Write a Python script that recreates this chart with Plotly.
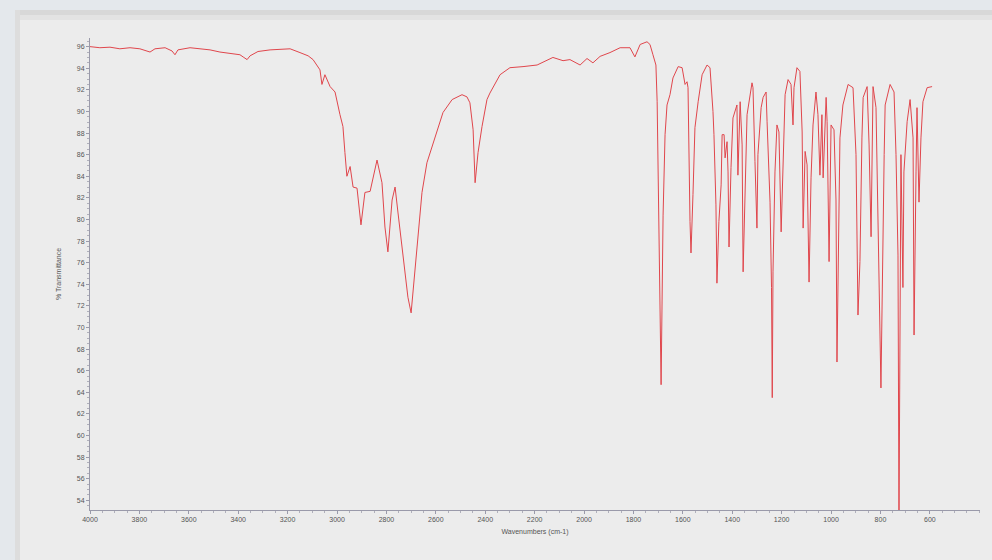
import plotly.graph_objects as go

# Wavenumbers (cm-1)
wavenumber = [
    4000, 3960, 3919, 3879, 3838, 3798, 3757, 3737, 3696, 3668, 3656, 3644, 3595, 3555, 3514,
    3474, 3433, 3393, 3377, 3364, 3352, 3320, 3271, 3231, 3190, 3150, 3117, 3097, 3069, 3061,
    3049, 3028, 3008, 2988, 2976, 2968, 2960, 2947, 2935, 2919, 2903, 2887, 2866, 2838, 2818,
    2806, 2794, 2777, 2765, 2753, 2733, 2713, 2700, 2692, 2676, 2656, 2636, 2603, 2571, 2534,
    2494, 2474, 2462, 2449, 2441, 2429, 2413, 2393, 2381, 2340, 2300, 2247, 2190, 2126, 2085,
    2057, 2016, 1988, 1964, 1935, 1895, 1854, 1814, 1794, 1773, 1745, 1733, 1721, 1709, 1704,
    1700, 1696, 1688, 1680, 1672, 1664, 1652, 1640, 1619, 1603, 1591, 1583, 1579, 1571, 1567,
    1559, 1551, 1538, 1522, 1502, 1490, 1478, 1474, 1466, 1462, 1454, 1445, 1441, 1433, 1429,
    1421, 1417, 1413, 1405, 1397, 1381, 1377, 1368, 1360, 1356, 1348, 1340, 1320, 1316, 1308,
    1300, 1296, 1283, 1275, 1263, 1259, 1247, 1241, 1238, 1235, 1227, 1219, 1211, 1202, 1194,
    1186, 1174, 1162, 1154, 1150, 1138, 1126, 1117, 1113, 1105, 1097, 1089, 1081, 1073, 1061,
    1053, 1045, 1037, 1032, 1020, 1016, 1008, 1000, 988, 980, 976, 968, 964, 952, 931,
    911, 899, 891, 883, 875, 870, 854, 846, 838, 834, 830, 818, 810, 798, 785,
    781, 761, 745, 737, 729, 725, 721, 717, 709, 705, 692, 680, 668, 664, 656,
    652, 644, 636, 628, 611, 591,
]

# % Transmittance at each wavenumber
transmittance = [
    96.0, 95.9, 95.95, 95.8, 95.9, 95.8, 95.5, 95.8, 95.9, 95.6, 95.25, 95.7, 95.9, 95.8, 95.7,
    95.5, 95.35, 95.25, 95.0, 94.8, 95.15, 95.55, 95.7, 95.75, 95.8, 95.45, 95.15, 94.8, 93.85, 92.5,
    93.4, 92.3, 91.8, 89.7, 88.6, 86.2, 84.0, 84.9, 83.0, 82.9, 79.5, 82.5, 82.6, 85.5, 83.4,
    79.3, 77.0, 81.8, 83.0, 80.6, 76.5, 72.8, 71.35, 73.5, 77.5, 82.5, 85.25, 87.65, 89.9, 91.1,
    91.55, 91.35, 90.8, 88.3, 83.4, 86.2, 88.6, 91.1, 91.7, 93.4, 94.05, 94.15, 94.3, 95.0, 94.7,
    94.8, 94.3, 94.9, 94.5, 95.1, 95.45, 95.9, 95.9, 95.05, 96.2, 96.45, 96.2, 95.25, 94.3, 90.9,
    84.1, 75.5, 64.7, 80.4, 87.85, 90.6, 91.55, 93.1, 94.15, 94.05, 92.5, 92.75, 92.2, 79.8, 76.9,
    82.3, 88.5, 90.9, 93.4, 94.3, 94.05, 90.0, 87.85, 81.35, 74.1, 79.8, 83.2, 87.85, 87.85, 85.7,
    87.2, 84.4, 77.45, 84.8, 89.4, 90.6, 84.1, 90.9, 86.9, 75.15, 82.9, 89.7, 92.65, 92.2, 85.35,
    79.2, 86.0, 90.35, 91.3, 91.8, 89.05, 81.6, 73.7, 63.5, 75.15, 84.4, 88.75, 88.1, 78.85, 86.6,
    91.55, 92.95, 92.5, 88.75, 92.2, 94.05, 93.7, 88.1, 79.2, 86.3, 85.05, 74.2, 83.85, 88.75, 91.8,
    89.7, 84.1, 89.7, 83.85, 91.3, 89.05, 76.1, 88.75, 88.3, 81.8, 66.8, 82.75, 87.55, 90.6, 92.5,
    92.2, 86.0, 71.15, 76.1, 87.55, 91.3, 92.3, 86.9, 78.4, 89.05, 92.3, 90.35, 78.3, 64.4, 86.0,
    90.6, 92.5, 91.8, 86.0, 76.7, 52.0, 76.7, 86.0, 73.7, 84.4, 89.05, 91.1, 87.55, 69.3, 84.4,
    90.35, 81.6, 87.55, 90.9, 92.2, 92.3,
]

x_ticks = [4000, 3800, 3600, 3400, 3200, 3000, 2800, 2600, 2400, 2200, 2000,
           1800, 1600, 1400, 1200, 1000, 800, 600]
y_ticks = list(range(54, 97, 2))

fig = go.Figure()
fig.add_trace(go.Scatter(
    x=wavenumber, y=transmittance, mode="lines",
    line=dict(color="#e0464c", width=1),
    showlegend=False, hoverinfo="x+y",
))

L, R, T, B = 90, 12, 38, 50
W, H = 992, 560
pw, ph = W - L - R, H - T - B

def px(xp):
    return (xp - L) / pw

def py(yp):
    return (H - B - yp) / ph

shapes = [
    dict(type="rect", xref="paper", yref="paper", x0=px(15), x1=px(992), y0=py(560), y1=py(10),
         fillcolor="#ececec", line=dict(width=0), layer="below"),
    dict(type="rect", xref="paper", yref="paper", x0=px(15), x1=px(992), y0=py(15), y1=py(10),
         fillcolor="#d8d8d8", line=dict(width=0), layer="below"),
    dict(type="rect", xref="paper", yref="paper", x0=px(15), x1=px(992), y0=py(20), y1=py(15),
         fillcolor="#e3e3e3", line=dict(width=0), layer="below"),
    dict(type="rect", xref="paper", yref="paper", x0=px(15), x1=px(20), y0=py(560), y1=py(10),
         fillcolor="#dddddd", line=dict(width=0), layer="below"),
]

fig.update_layout(
    width=W, height=H,
    margin=dict(l=L, r=R, t=T, b=B),
    paper_bgcolor="#e4e8ec",
    plot_bgcolor="rgba(0,0,0,0)",
    shapes=shapes,
    font=dict(family="Liberation Sans, Arial, sans-serif", size=7, color="#555555"),
    xaxis=dict(
        range=[4000, 397], tickvals=x_ticks, ticktext=[str(v) for v in x_ticks],
        showgrid=False, zeroline=False, showline=True, linecolor="#9a9aaa", linewidth=1,
        ticks="outside", ticklen=3, tickcolor="#9a9aaa",
        minor=dict(dtick=50, ticks="outside", ticklen=2, tickcolor="#b0b0bb"),
        tickfont=dict(size=7, color="#555555"),
        title=dict(text="Wavenumbers (cm-1)", font=dict(size=7, color="#555555"), standoff=6),
    ),
    yaxis=dict(
        range=[53.1, 96.8], tickvals=y_ticks, ticktext=[str(v) for v in y_ticks],
        showgrid=False, zeroline=False, showline=True, linecolor="#9a9aaa", linewidth=1,
        ticks="outside", ticklen=3, tickcolor="#9a9aaa",
        minor=dict(dtick=0.5, ticks="outside", ticklen=2, tickcolor="#b0b0bb"),
        tickfont=dict(size=7, color="#555555"),
        title=dict(text="% Transmittance", font=dict(size=7, color="#555555"), standoff=14),
    ),
)

fig.write_html(
    "out.html",
    config={"displayModeBar": False},
    post_script="document.body.style.margin='0';document.body.style.background='#e4e8ec';",
)
